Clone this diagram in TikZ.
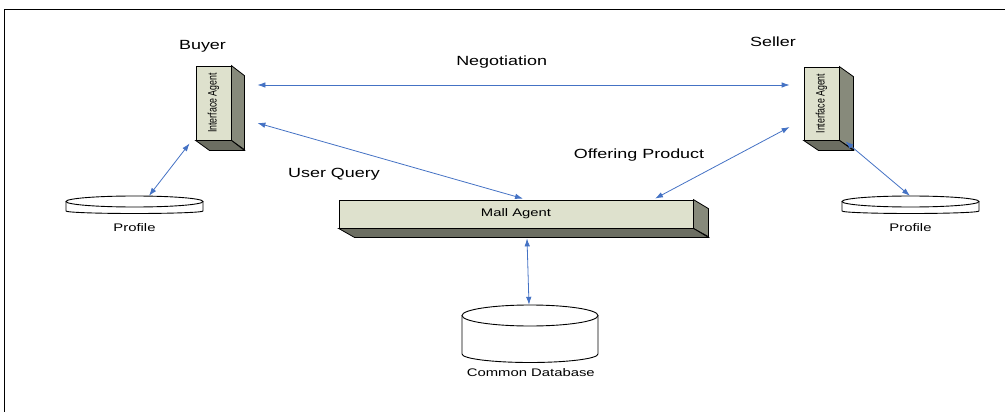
\documentclass[tikz,border=0pt]{standalone}
\usepackage{fontspec}
\setmainfont{Liberation Sans}[FakeStretch=1.35]
\newfontfamily\narrowfont{Liberation Sans}
\usetikzlibrary{positioning,arrows.meta}

\definecolor{agentface}{RGB}{222,225,205}
\definecolor{agentside}{RGB}{135,138,123}
\definecolor{agentbottom}{RGB}{108,110,98}
\definecolor{linkblue}{RGB}{68,114,196}

\begin{document}
\begin{tikzpicture}[x=1pt, y=-1pt,
    agent/.style={draw, fill=agentface, inner sep=0pt, line width=0.8pt},
    face/.style={draw, line width=0.8pt},
    store/.style={inner sep=0pt},
    link/.style={draw=linkblue, line width=0.8pt,
        {Latex[length=8pt,width=5.5pt]}-{Latex[length=8pt,width=5.5pt]}},
    title/.style={font=\fontsize{13.3}{15}\selectfont},
    small/.style={font=\fontsize{11}{13}\selectfont}]
\useasboundingbox (0,0) rectangle (1005,412);
\draw[line width=1.6pt] (4.5,412) -- (4.5,9.5) -- (1005,9.5);

% agents
\node[agent, minimum width=35pt, minimum height=74pt] (buyer) at (213.5,103)
    {\rotatebox{90}{\scalebox{1}[1.4]{\narrowfont\fontsize{8.8}{9}\selectfont Interface Agent}}};
\draw[face, fill=agentside] (buyer.north east) -- ++(13,10) -- ++(0,74) -- (buyer.south east) -- cycle;
\draw[face, fill=agentbottom] (buyer.south west) -- (buyer.south east) -- ++(13,10) -- ++(-35,0) -- cycle;

\node[agent, minimum width=35pt, minimum height=73pt] (seller) at (821.5,103.5)
    {\rotatebox{90}{\scalebox{1}[1.4]{\narrowfont\fontsize{8.8}{9}\selectfont Interface Agent}}};
\draw[face, fill=agentside] (seller.north east) -- ++(14,10) -- ++(0,73) -- (seller.south east) -- cycle;
\draw[face, fill=agentbottom] (seller.south west) -- (seller.south east) -- ++(14,10) -- ++(-35,0) -- cycle;

\node[agent, small, minimum width=354pt, minimum height=28pt] (mall) at (516,214) {Mall Agent};
\draw[face, fill=agentside] (mall.north east) -- ++(15,9) -- ++(0,28) -- (mall.south east) -- cycle;
\draw[face, fill=agentbottom] (mall.south west) -- (mall.south east) -- ++(15,9) -- ++(-354,0) -- cycle;

\node[title] (buyerlbl) at (202.5,46) {Buyer};
\node[title] (sellerlbl) at (773,41.5) {Seller};

% profiles and database
\node[store, minimum width=137pt, minimum height=17.5pt] (prof1) at (134.5,204.75) {};
\draw[line width=0.9pt, fill=white] (66,201.5) -- (66,211)
    arc[start angle=180, end angle=0, x radius=68.5, y radius=2.5] -- (203,201.5);
\draw[line width=0.9pt] (134.5,201.5) ellipse[x radius=68.5, y radius=5.5];
\node[small, below=6pt of prof1] (prof1lbl) {Profile};

\node[store, minimum width=137pt, minimum height=17.5pt] (prof2) at (910.5,204.75) {};
\draw[line width=0.9pt, fill=white] (842,201.5) -- (842,211)
    arc[start angle=180, end angle=0, x radius=68.5, y radius=2.5] -- (979,201.5);
\draw[line width=0.9pt] (910.5,201.5) ellipse[x radius=68.5, y radius=5.5];
\node[small, below=6pt of prof2] (prof2lbl) {Profile};

\node[store, minimum width=136pt, minimum height=57.5pt] (db) at (530,333.75) {};
\draw[line width=0.9pt, fill=white] (462,315.5) -- (462,354)
    arc[start angle=180, end angle=0, x radius=68, y radius=8.5] -- (598,315.5);
\draw[line width=0.9pt] (530,315.5) ellipse[x radius=68, y radius=10.5];
\node[small] (dblbl) at (530.8,372.7) {Common Database};

% links
\draw[link] ([shift={(26,-18)}]buyer.east) -- ([shift={(-14,-18.5)}]seller.west);
\node[title] (neglbl) at (501.7,62.5) {Negotiation};
\draw[link] ([shift={(26,20)}]buyer.east) -- ([shift={(7,-1)}]mall.north);
\node[title] (querylbl) at (334,174.3) {User Query};
\draw[link] ([shift={(-14,23.5)}]seller.west) -- ([shift={(139,-1)}]mall.north);
\node[title] (offerlbl) at (639,155) {Offering Product};
\draw[link] ([shift={(-6,3)}]buyer.south west) -- ([xshift=14.5pt]prof1.north);
\draw[link] ([shift={(6,1)}]seller.south east) -- ([xshift=-0.5pt]prof2.north);
\draw[link] ([shift={(11,10)}]mall.south) -- ([xshift=-1pt]db.north);
\end{tikzpicture}
\end{document}
